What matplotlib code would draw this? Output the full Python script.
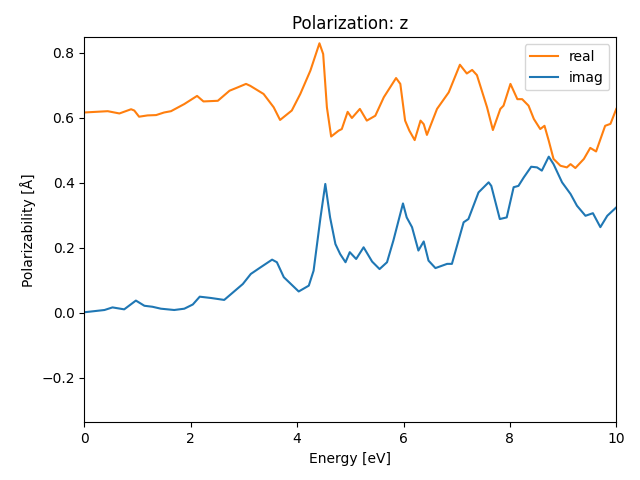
import numpy as np
import matplotlib
matplotlib.use('Agg')
import matplotlib.pyplot as plt

# energies [eV] and polarizability values
energy_real = [0.0, 0.44, 0.66, 0.88, 0.94, 1.03, 1.19, 1.35, 1.50, 1.63, 1.88, 2.12,
               2.24, 2.51, 2.73, 2.88, 3.04, 3.12, 3.37, 3.56, 3.68, 3.90, 4.06, 4.25,
               4.42, 4.49, 4.56, 4.64, 4.78, 4.84, 4.95, 5.03, 5.18, 5.31, 5.47, 5.63,
               5.86, 5.94, 6.03, 6.11, 6.21, 6.32, 6.38, 6.44, 6.63, 6.85, 7.06, 7.19,
               7.29, 7.38, 7.57, 7.68, 7.82, 7.88, 8.01, 8.14, 8.23, 8.35, 8.45, 8.57,
               8.65, 8.73, 8.82, 8.95, 9.07, 9.14, 9.23, 9.39, 9.51, 9.62, 9.79, 9.89, 10.0]
real = [0.616, 0.620, 0.613, 0.626, 0.622, 0.603, 0.607, 0.608, 0.616, 0.620, 0.642, 0.667,
        0.650, 0.652, 0.683, 0.693, 0.704, 0.698, 0.673, 0.632, 0.593, 0.622, 0.673, 0.745,
        0.829, 0.796, 0.632, 0.542, 0.560, 0.565, 0.618, 0.599, 0.627, 0.591, 0.606, 0.663,
        0.722, 0.704, 0.591, 0.560, 0.531, 0.591, 0.580, 0.547, 0.627, 0.678, 0.763, 0.736,
        0.747, 0.731, 0.632, 0.562, 0.627, 0.637, 0.704, 0.657, 0.657, 0.637, 0.596, 0.565,
        0.575, 0.529, 0.473, 0.452, 0.447, 0.457, 0.445, 0.473, 0.507, 0.496, 0.575, 0.581, 0.627]

energy_imag = [0.0, 0.38, 0.53, 0.75, 0.97, 1.13, 1.28, 1.44, 1.69, 1.88, 2.04, 2.17,
               2.38, 2.63, 2.98, 3.13, 3.31, 3.53, 3.62, 3.75, 4.03, 4.22, 4.31, 4.44,
               4.53, 4.62, 4.72, 4.81, 4.91, 4.99, 5.11, 5.25, 5.41, 5.55, 5.69, 5.81,
               5.99, 6.06, 6.16, 6.28, 6.38, 6.47, 6.60, 6.82, 6.91, 7.13, 7.22, 7.41,
               7.60, 7.65, 7.81, 7.94, 8.07, 8.16, 8.26, 8.40, 8.51, 8.60, 8.73, 8.82,
               8.98, 9.14, 9.26, 9.42, 9.56, 9.70, 9.83, 10.0]
imag = [0.001, 0.008, 0.016, 0.010, 0.037, 0.021, 0.018, 0.012, 0.008, 0.012, 0.025, 0.049,
        0.045, 0.039, 0.088, 0.119, 0.139, 0.163, 0.155, 0.109, 0.065, 0.083, 0.129, 0.293,
        0.396, 0.293, 0.211, 0.180, 0.155, 0.186, 0.165, 0.201, 0.157, 0.134, 0.155, 0.222,
        0.336, 0.293, 0.263, 0.191, 0.219, 0.160, 0.137, 0.150, 0.150, 0.278, 0.288, 0.370,
        0.401, 0.390, 0.288, 0.293, 0.386, 0.390, 0.416, 0.449, 0.447, 0.437, 0.480, 0.457,
        0.401, 0.365, 0.329, 0.298, 0.306, 0.263, 0.298, 0.324]

fig, ax = plt.subplots(figsize=(6.4, 4.8), dpi=100)
ax.plot(energy_real, real, color='tab:orange', label='real')
ax.plot(energy_imag, imag, color='tab:blue', label='imag')
ax.set_xlim(0, 10)
ax.set_ylim(-0.338, 0.847)
ax.set_title('Polarization: z')
ax.set_xlabel('Energy [eV]')
ax.set_ylabel('Polarizability [Å]')
ax.legend(loc='upper right')
fig.subplots_adjust(left=0.1317, right=0.963, top=0.922, bottom=0.12)
fig.savefig('out.png')
